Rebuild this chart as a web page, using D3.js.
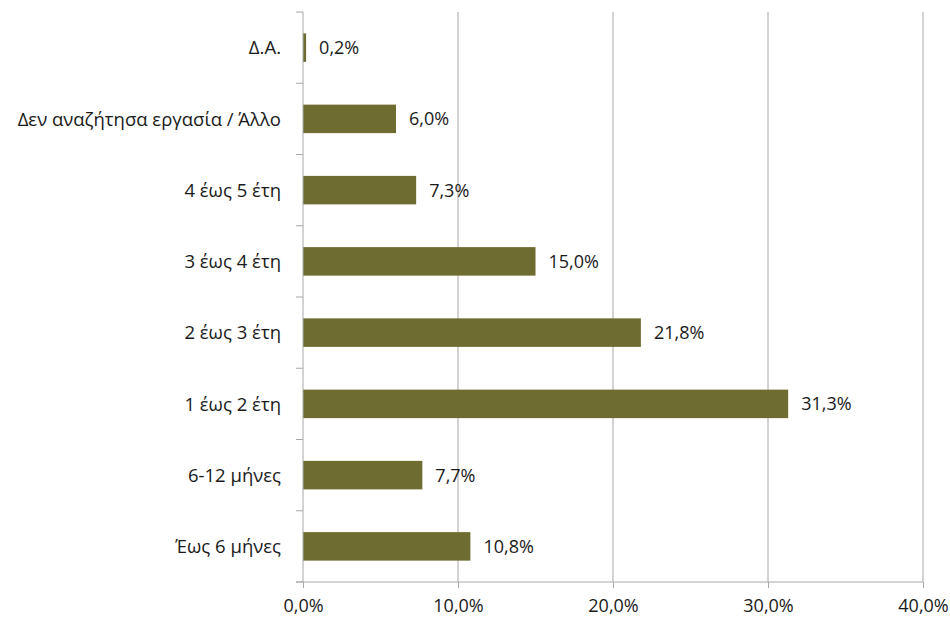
<!DOCTYPE html>
<html>
<head>
<meta charset="utf-8">
<script src="https://cdn.jsdelivr.net/npm/d3@7"></script>
<style>
  html, body { margin: 0; padding: 0; background: #ffffff; }
  svg text { font-family: "Open Sans", "Noto Sans", sans-serif; fill: #1a1a1a; }
</style>
</head>
<body>
<svg id="chart" width="950" height="617"></svg>
<script>
// Categories listed top to bottom
const categories = [
  "Δ.Α.",
  "Δεν αναζήτησα εργασία / Άλλο",
  "4 έως 5 έτη",
  "3 έως 4 έτη",
  "2 έως 3 έτη",
  "1 έως 2 έτη",
  "6-12 μήνες",
  "Έως 6 μήνες"
];
const values = [0.2, 6.0, 7.3, 15.0, 21.8, 31.3, 7.7, 10.8];
const xTicks = [0, 10, 20, 30, 40];

const fmt = v => v.toFixed(1).replace(".", ",") + "%";

const svg = d3.select("#chart");
const margin = { top: 12, right: 27, bottom: 35, left: 303 };
const width = 950 - margin.left - margin.right;
const height = 617 - margin.top - margin.bottom;

const g = svg.append("g").attr("transform", `translate(${margin.left},${margin.top})`);

const x = d3.scaleLinear().domain([0, 40]).range([0, width]);
const y = d3.scaleBand().domain(categories).range([0, height]).paddingInner(0.6).paddingOuter(0.3);

const gridColor = "#a8a8a8";

// Vertical gridlines
g.selectAll("line.grid")
  .data(xTicks.slice(1))
  .join("line")
  .attr("class", "grid")
  .attr("x1", d => x(d)).attr("x2", d => x(d))
  .attr("y1", 0).attr("y2", height)
  .attr("stroke", gridColor).attr("stroke-width", 1);

// Bars
g.selectAll("rect.bar")
  .data(values)
  .join("rect")
  .attr("class", "bar")
  .attr("x", 0)
  .attr("y", (d, i) => y(categories[i]))
  .attr("width", d => x(d))
  .attr("height", y.bandwidth())
  .attr("fill", "#6f6c31");

// Value labels
g.selectAll("text.val")
  .data(values)
  .join("text")
  .attr("class", "val")
  .attr("x", d => x(d) + 13)
  .attr("y", (d, i) => y(categories[i]) + y.bandwidth() / 2)
  .attr("dy", "0.36em")
  .attr("font-size", 18)
  .text(d => fmt(d));

// Category axis: ticks at band boundaries, labels centred in bands
const step = height / categories.length;
const bounds = d3.range(categories.length + 1).map(i => i * step);
g.append("line")
  .attr("x1", 0).attr("x2", 0).attr("y1", 0).attr("y2", height)
  .attr("stroke", gridColor);
g.selectAll("line.ytick")
  .data(bounds)
  .join("line")
  .attr("class", "ytick")
  .attr("x1", -7).attr("x2", 0)
  .attr("y1", d => d).attr("y2", d => d)
  .attr("stroke", gridColor);
g.selectAll("text.ylab")
  .data(categories)
  .join("text")
  .attr("class", "ylab")
  .attr("x", -22)
  .attr("y", d => y(d) + y.bandwidth() / 2)
  .attr("dy", "0.36em")
  .attr("text-anchor", "end")
  .attr("font-size", 18.5)
  .text(d => d);

// Value axis
const xAxis = g.append("g")
  .attr("transform", `translate(0,${height})`)
  .call(d3.axisBottom(x).tickValues(xTicks).tickSize(6).tickPadding(11).tickFormat(d => fmt(d)));
xAxis.select(".domain").attr("stroke", gridColor).attr("d", `M-7,0H${width}`);
xAxis.selectAll(".tick line").attr("stroke", gridColor);
xAxis.selectAll(".tick text").attr("font-size", 18).attr("fill", "#1a1a1a")
  .style("font-family", "'Open Sans', 'Noto Sans', sans-serif");
</script>
</body>
</html>
